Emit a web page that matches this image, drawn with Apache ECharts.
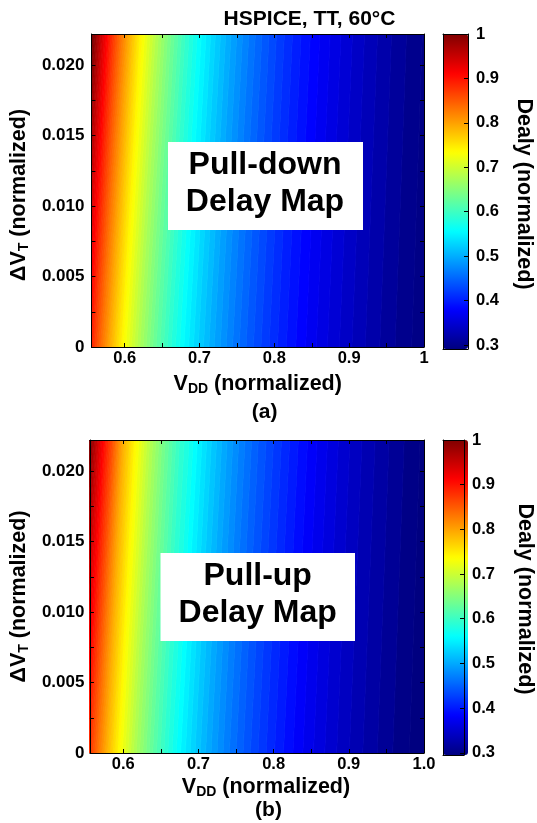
<!DOCTYPE html>
<html lang="en">
<head>
    <meta charset="UTF-8">
    <meta name="viewport" content="width=device-width, initial-scale=1.0">
    <title>Pull-down / Pull-up delay maps</title>
    <script src="https://cdn.jsdelivr.net/npm/echarts@6.0.0/dist/echarts.min.js"></script>
    <style>
        html, body {
            margin: 0;
            padding: 0;
            background: #fff;
        }

        #chart {
            width: 537px;
            height: 823px;
        }
    </style>
</head>
<body>
    <div id="chart"></div>

    <script>
        // normalized delay levels of the filled contours
        const levels = [
            0.30, 0.31, 0.32, 0.33, 0.34, 0.35, 0.36, 0.37, 0.38, 0.39,
            0.40, 0.41, 0.42, 0.43, 0.44, 0.45, 0.46, 0.47, 0.48, 0.49,
            0.50, 0.51, 0.52, 0.53, 0.54, 0.55, 0.56, 0.57, 0.58, 0.59,
            0.60, 0.61, 0.62, 0.63, 0.64, 0.65, 0.66, 0.67, 0.68, 0.69,
            0.70, 0.71, 0.72, 0.73, 0.74, 0.75, 0.76, 0.77, 0.78, 0.79,
            0.80, 0.81, 0.82, 0.83, 0.84, 0.85, 0.86, 0.87, 0.88, 0.89,
            0.90, 0.91, 0.92, 0.93, 0.94, 0.95, 0.96, 0.97, 0.98, 0.99,
            1.00
        ];

        // VDD where each level is crossed at dVT = 0 and at the top of the axis
        const pullDownBottom = [
            0.9835, 0.9613, 0.9408, 0.9215, 0.9036, 0.8868, 0.8709, 0.8559, 0.8418, 0.8286,
            0.8160, 0.8041, 0.7929, 0.7821, 0.7720, 0.7622, 0.7530, 0.7441, 0.7356, 0.7276,
            0.7196, 0.7124, 0.7052, 0.6982, 0.6918, 0.6854, 0.6791, 0.6734, 0.6678, 0.6621,
            0.6569, 0.6519, 0.6470, 0.6420, 0.6374, 0.6331, 0.6288, 0.6245, 0.6202, 0.6164,
            0.6127, 0.6090, 0.6053, 0.6016, 0.5981, 0.5948, 0.5915, 0.5883, 0.5853, 0.5822,
            0.5793, 0.5765, 0.5737, 0.5709, 0.5682, 0.5657, 0.5631, 0.5606, 0.5582, 0.5559,
            0.5536, 0.5513, 0.5490, 0.5469, 0.5448, 0.5427, 0.5406, 0.5386, 0.5366, 0.5347,
            0.5328
        ];
        const pullDownTop = [
            0.9978, 0.9766, 0.9566, 0.9379, 0.9205, 0.9044, 0.8891, 0.8746, 0.8608, 0.8481,
            0.8358, 0.8243, 0.8134, 0.8028, 0.7930, 0.7835, 0.7746, 0.7659, 0.7576, 0.7498,
            0.7421, 0.7350, 0.7281, 0.7212, 0.7149, 0.7087, 0.7025, 0.6968, 0.6914, 0.6860,
            0.6806, 0.6758, 0.6711, 0.6663, 0.6616, 0.6573, 0.6532, 0.6491, 0.6450, 0.6409,
            0.6373, 0.6337, 0.6302, 0.6267, 0.6232, 0.6197, 0.6166, 0.6135, 0.6103, 0.6074,
            0.6046, 0.6017, 0.5990, 0.5963, 0.5937, 0.5911, 0.5886, 0.5862, 0.5838, 0.5814,
            0.5791, 0.5770, 0.5748, 0.5726, 0.5704, 0.5684, 0.5665, 0.5645, 0.5625, 0.5606,
            0.5587
        ];
        const pullUpBottom = [
            0.9805, 0.9583, 0.9378, 0.9185, 0.9006, 0.8838, 0.8679, 0.8529, 0.8388, 0.8256,
            0.8130, 0.8011, 0.7899, 0.7791, 0.7690, 0.7592, 0.7500, 0.7411, 0.7326, 0.7246,
            0.7166, 0.7094, 0.7022, 0.6952, 0.6888, 0.6824, 0.6761, 0.6704, 0.6648, 0.6591,
            0.6539, 0.6489, 0.6440, 0.6390, 0.6344, 0.6301, 0.6258, 0.6215, 0.6172, 0.6134,
            0.6097, 0.6060, 0.6023, 0.5986, 0.5951, 0.5918, 0.5885, 0.5853, 0.5823, 0.5792,
            0.5763, 0.5735, 0.5707, 0.5679, 0.5652, 0.5627, 0.5601, 0.5576, 0.5552, 0.5529,
            0.5506, 0.5483, 0.5460, 0.5439, 0.5418, 0.5397, 0.5376, 0.5356, 0.5336, 0.5317,
            0.5298
        ];
        const pullUpTop = [
            0.9948, 0.9736, 0.9536, 0.9349, 0.9175, 0.9014, 0.8861, 0.8716, 0.8578, 0.8451,
            0.8328, 0.8213, 0.8104, 0.7998, 0.7900, 0.7795, 0.7706, 0.7619, 0.7536, 0.7458,
            0.7381, 0.7310, 0.7241, 0.7172, 0.7109, 0.7047, 0.6985, 0.6928, 0.6874, 0.6810,
            0.6746, 0.6698, 0.6651, 0.6603, 0.6556, 0.6513, 0.6472, 0.6431, 0.6390, 0.6349,
            0.6313, 0.6277, 0.6242, 0.6207, 0.6172, 0.6137, 0.6106, 0.6075, 0.6043, 0.6014,
            0.5986, 0.5962, 0.5940, 0.5918, 0.5897, 0.5876, 0.5856, 0.5832, 0.5808, 0.5784,
            0.5761, 0.5740, 0.5718, 0.5696, 0.5674, 0.5654, 0.5635, 0.5615, 0.5595, 0.5576,
            0.5557
        ];

        const vddRange = [0.5556, 1.0];
        const dvtRange = [0, 0.0222];
        const vddLabels = [0.6, 0.7, 0.8, 0.9, 1.0];
        const vddTicks = [0.6, 0.65, 0.7, 0.75, 0.8, 0.85, 0.9, 0.95, 1.0];
        const dvtLabels = [0, 0.005, 0.010, 0.015, 0.020];
        const dvtTicks = [0, 0.0025, 0.005, 0.0075, 0.010, 0.0125, 0.015, 0.0175, 0.020];
        const delayTicks = [0.3, 0.4, 0.5, 0.6, 0.7, 0.8, 0.9, 1.0];
        const delayRangeA = [0.291, 1.0];
        const delayRangeB = [0.295, 1.0];
        // value used for the strip right of the lowest contour
        const belowLowest = 0.295;

        const jet = ['#000080', '#0000ff', '#0080ff', '#00ffff', '#80ff80',
                     '#ffff00', '#ff8000', '#ff0000', '#800000'];
        const font = '"Liberation Sans", Arial, Helvetica, sans-serif';

        // one item per band between two neighbouring contours: [level, b0, t0, b1, t1]
        function buildBands(bottom, top) {
            const data = [];
            const far = 0.05;
            data.push([belowLowest, vddRange[1] + far, vddRange[1] + far, bottom[0], top[0]]);
            for (let k = 0; k < levels.length - 1; k++) {
                data.push([levels[k], bottom[k], top[k], bottom[k + 1], top[k + 1]]);
            }
            const n = levels.length - 1;
            data.push([levels[n], bottom[n], top[n], vddRange[0] - far, vddRange[0] - far]);
            return data;
        }

        function renderBand(params, api) {
            const pts = [
                api.coord([api.value(1), dvtRange[0]]),
                api.coord([api.value(2), dvtRange[1]]),
                api.coord([api.value(4), dvtRange[1]]),
                api.coord([api.value(3), dvtRange[0]])
            ];
            const c = api.visual('color');
            return {
                type: 'polygon',
                shape: { points: pts },
                style: { fill: c, stroke: c, lineWidth: 0.8 }
            };
        }

        const labelStyle = { fontFamily: font, fontWeight: 'bold', color: '#000' };
        const nameRich = {
            v: { fontFamily: font, fontWeight: 'bold', fontSize: 21.5, color: '#000', lineHeight: 24 },
            s: { fontFamily: font, fontWeight: 'bold', fontSize: 14, color: '#000', lineHeight: 14, verticalAlign: 'bottom' }
        };
        const black = { color: '#000', width: 1 };

        function plainAxis(gridIndex, position, min, max, ticks) {
            return {
                type: 'value', gridIndex: gridIndex, position: position, min: min, max: max, z: 10,
                axisLine: { show: true, onZero: false, lineStyle: black },
                axisTick: ticks ? { show: true, inside: true, length: 4, customValues: ticks, lineStyle: black } : { show: false },
                axisLabel: { show: false },
                splitLine: { show: false }
            };
        }

        function vddAxis(gridIndex, fmt, gap, pad) {
            const ax = plainAxis(gridIndex, 'bottom', vddRange[0], vddRange[1], vddTicks);
            ax.axisLabel = Object.assign({ show: true, customValues: vddLabels, formatter: fmt, margin: 3, fontSize: 16.5 }, labelStyle);
            ax.name = '{v|V}{s|DD}{v| (normalized)}';
            ax.nameLocation = 'middle';
            ax.nameGap = gap;
            ax.nameTextStyle = { rich: nameRich, padding: pad };
            return ax;
        }

        function dvtAxis(gridIndex, margin, gap, pad) {
            const ax = plainAxis(gridIndex, 'left', dvtRange[0], dvtRange[1], dvtTicks);
            ax.axisLabel = Object.assign({
                show: true, customValues: dvtLabels, margin: margin, fontSize: 17,
                formatter: v => (v === 0 ? '0' : v.toFixed(3))
            }, labelStyle);
            ax.name = '{v|\u0394V}{s|T}{v| (normalized)}';
            ax.nameLocation = 'middle';
            ax.nameGap = gap;
            ax.nameTextStyle = { rich: nameRich, padding: pad };
            return ax;
        }

        function delayAxis(gridIndex, range, gap, pad) {
            const ax = plainAxis(gridIndex, 'right', range[0], range[1], delayTicks);
            ax.axisLabel = Object.assign({
                show: true, customValues: delayTicks, margin: 8, fontSize: 16.5,
                formatter: v => (v === 1 ? '1' : v.toFixed(1))
            }, labelStyle);
            ax.name = 'Dealy (normalized)';
            ax.nameLocation = 'middle';
            ax.nameRotate = -90;
            ax.nameGap = gap;
            ax.nameTextStyle = { fontFamily: font, fontWeight: 'bold', fontSize: 21.5, color: '#000', padding: pad };
            return ax;
        }

        const chart = echarts.init(document.getElementById('chart'));
        chart.setOption({
            animation: false,
            backgroundColor: '#fff',
            grid: [
                { left: 89, top: 34, width: 335, height: 313 },
                { left: 89, top: 440, width: 335, height: 313 },
                { left: 443, top: 34, width: 25, height: 315 },
                { left: 443, top: 440, width: 25, height: 315 }
            ],
            xAxis: [
                vddAxis(0, v => (v === 1 ? '1' : v.toFixed(1)), 25, [0, 0, 0, 0]),
                plainAxis(0, 'top', vddRange[0], vddRange[1], vddTicks),
                vddAxis(1, v => v.toFixed(1), 22, [0, 0, 0, 18]),
                plainAxis(1, 'top', vddRange[0], vddRange[1], vddTicks),
                plainAxis(2, 'bottom', 0, 1, null),
                plainAxis(2, 'top', 0, 1, null),
                plainAxis(3, 'bottom', 0, 1, null),
                plainAxis(3, 'top', 0, 1, null)
            ],
            yAxis: [
                dvtAxis(0, 7, 58, [0, 9, 0, 0]),
                plainAxis(0, 'right', dvtRange[0], dvtRange[1], dvtTicks),
                dvtAxis(1, 5.5, 51.5, [0, 0, 0, 0]),
                plainAxis(1, 'right', dvtRange[0], dvtRange[1], dvtTicks),
                plainAxis(2, 'left', delayRangeA[0], delayRangeA[1], null),
                delayAxis(2, delayRangeA, 45, [0, 0, 0, 5]),
                plainAxis(3, 'left', delayRangeB[0], delayRangeB[1], null),
                delayAxis(3, delayRangeB, 50, [0, 0, 0, 3])
            ],
            visualMap: [
                {
                    type: 'continuous', seriesIndex: 0, dimension: 0,
                    min: delayRangeA[0], max: delayRangeA[1],
                    calculable: false, hoverLink: false, orient: 'vertical',
                    itemWidth: 25, itemHeight: 315, left: 443, top: 34, padding: 0,
                    inRange: { color: jet }
                },
                {
                    type: 'continuous', seriesIndex: 1, dimension: 0,
                    min: delayRangeB[0], max: delayRangeB[1],
                    calculable: false, hoverLink: false, orient: 'vertical',
                    itemWidth: 25, itemHeight: 315, left: 443, top: 440, padding: 0,
                    inRange: { color: jet }
                }
            ],
            series: [
                {
                    name: 'Pull-down', type: 'custom', xAxisIndex: 0, yAxisIndex: 0,
                    renderItem: renderBand, clip: true, silent: true,
                    data: buildBands(pullDownBottom, pullDownTop)
                },
                {
                    name: 'Pull-up', type: 'custom', xAxisIndex: 2, yAxisIndex: 2,
                    renderItem: renderBand, clip: true, silent: true,
                    data: buildBands(pullUpBottom, pullUpTop)
                }
            ],
            graphic: [
                {
                    type: 'text', z: 100, x: 309.5, y: 19.5,
                    style: { text: 'HSPICE, TT, 60\u00b0C', font: 'bold 21px ' + font, fill: '#000', align: 'center', verticalAlign: 'middle' }
                },
                {
                    type: 'rect', z: 100, shape: { x: 168, y: 142, width: 195, height: 88 },
                    style: { fill: '#fff' }
                },
                {
                    type: 'text', z: 101, x: 265, y: 184,
                    style: { text: 'Pull-down\nDelay Map', font: 'bold 32px ' + font, lineHeight: 37, fill: '#000', align: 'center', verticalAlign: 'middle' }
                },
                {
                    type: 'text', z: 100, x: 264.7, y: 412,
                    style: { text: '(a)', font: 'bold 21px ' + font, fill: '#000', align: 'center', verticalAlign: 'middle' }
                },
                {
                    type: 'rect', z: 100, shape: { x: 160.5, y: 553, width: 194.5, height: 88 },
                    style: { fill: '#fff' }
                },
                {
                    type: 'text', z: 101, x: 257.7, y: 595,
                    style: { text: 'Pull-up\nDelay Map', font: 'bold 32px ' + font, lineHeight: 37, fill: '#000', align: 'center', verticalAlign: 'middle' }
                },
                {
                    type: 'text', z: 100, x: 268.5, y: 810.6,
                    style: { text: '(b)', font: 'bold 21px ' + font, fill: '#000', align: 'center', verticalAlign: 'middle' }
                }
            ]
        });
    </script>
</body>
</html>
